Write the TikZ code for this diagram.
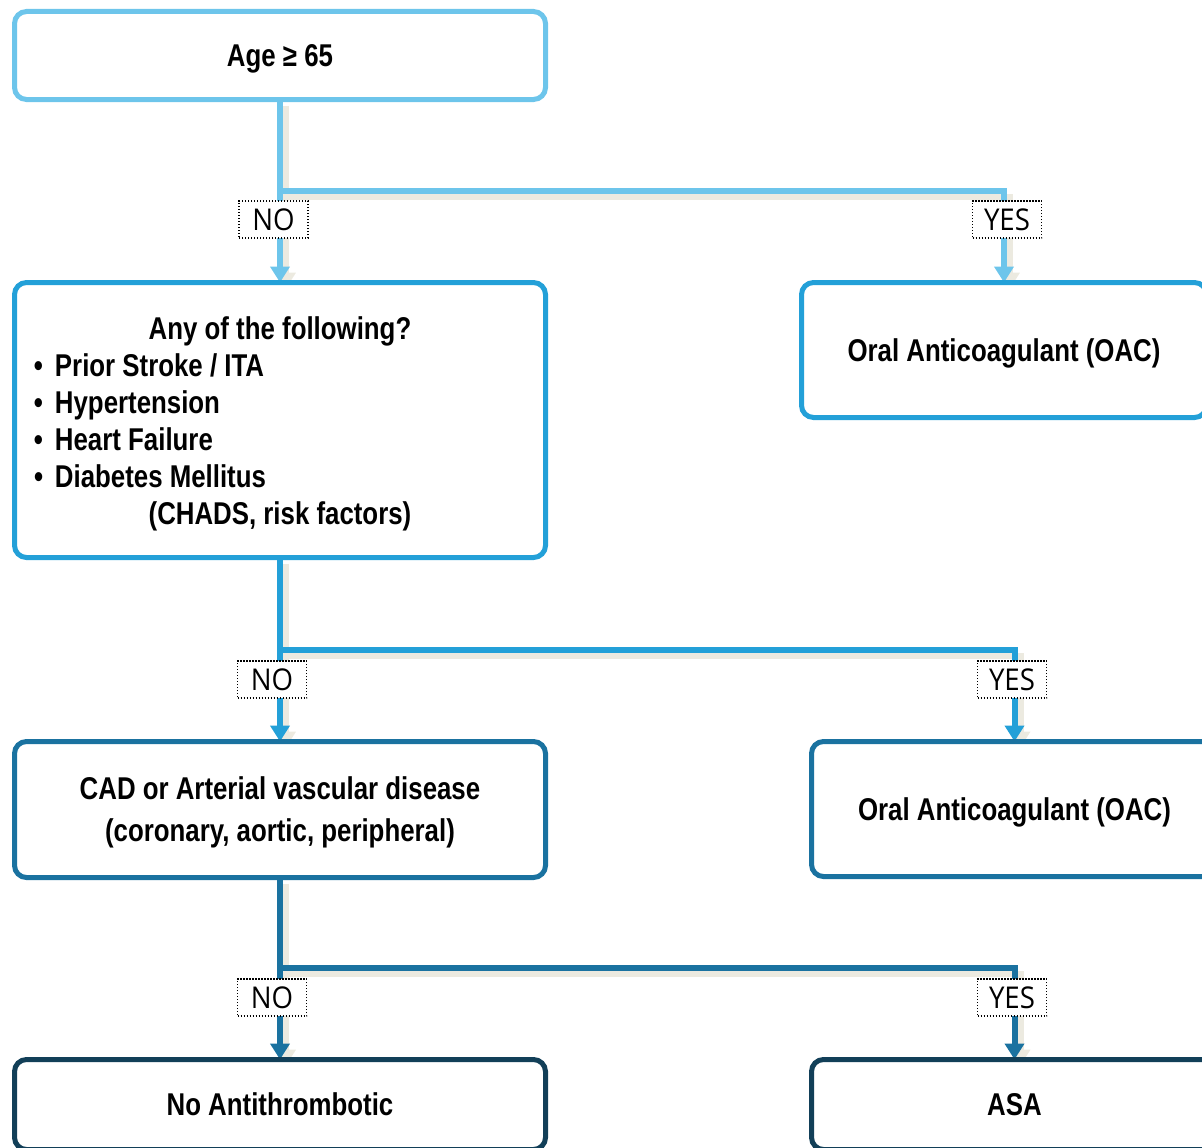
\documentclass[tikz,border=0pt]{standalone}
\usepackage{fontspec}
\newfontfamily\nar{Liberation Sans}[FakeStretch=0.82]
\newfontfamily\lab{Open Sans}[FakeStretch=0.92]
\usetikzlibrary{arrows.meta}
\definecolor{cA}{HTML}{6DC5EB}
\definecolor{cB}{HTML}{23A0D8}
\definecolor{cC}{HTML}{1A72A0}
\definecolor{cD}{HTML}{123F58}
\definecolor{shadowc}{HTML}{ECEAE0}
\pgfdeclarelayer{bg}
\pgfdeclarelayer{shad}
\pgfsetlayers{shad,bg,main}
\begin{document}
\begin{tikzpicture}[x=1pt,y=-1pt,
  box/.style={draw, fill=white, rounded corners=12pt, line width=5pt, inner sep=0pt, outer sep=0pt,
    font=\nar\bfseries\fontsize{31.5}{37}\selectfont, align=center},
  tdz/.style={text depth=0pt},
  conn/.style={line width=6pt},
  arr/.style={-{Triangle[width=19pt,length=16pt]}},
  lbl/.style={draw=black, fill=white, line width=1.4pt, dash pattern=on 1.4pt off 1.6pt,
    minimum width=69pt, minimum height=37pt, inner sep=0pt, font=\lab\fontsize{30}{30}\selectfont}]
\clip (0,0) rectangle (1202,1148);

\node[box, tdz, draw=cA, minimum width=531pt, minimum height=88pt] (b1) at (280,55.5) {Age ≥ 65};
\node[box, draw=cB, minimum width=531pt, minimum height=275pt] (b2) at (280,420) {\parbox{492pt}{%
  \vspace*{8pt}%
  \centering Any of the following?\par
  \raggedright
  \makebox[21pt][l]{\textbullet}Prior Stroke / ITA\par
  \makebox[21pt][l]{\textbullet}Hypertension\par
  \makebox[21pt][l]{\textbullet}Heart Failure\par
  \makebox[21pt][l]{\textbullet}Diabetes Mellitus\par
  \centering (CHADS, risk factors)\par}};
\node[box, tdz, draw=cB, minimum width=405pt, minimum height=135pt] (b3) at (1004,350) {Oral Anticoagulant (OAC)};
\node[box, tdz, draw=cC, minimum width=531pt, minimum height=136pt] (b4) at (280,809.5) {CAD or Arterial vascular disease\\[5pt](coronary, aortic, peripheral)};
\node[box, tdz, draw=cC, minimum width=406pt, minimum height=135pt] (b5) at (1014.5,809) {Oral Anticoagulant (OAC)};
\node[box, draw=cD, minimum width=531pt, minimum height=90pt] (b6) at (280,1104.5) {No Antithrombotic};
\node[box, draw=cD, minimum width=406pt, minimum height=90pt] (b7) at (1014.5,1104.5) {ASA};

\coordinate (j1) at (280,191);
\coordinate (j2) at (280,650);
\coordinate (j3) at (280,968);

\begin{pgfonlayer}{shad}
\begin{scope}[transform canvas={shift={(6pt,-6pt)}}, draw=shadowc, color=shadowc]
  \draw[conn, arr] (b1.south) -- (j1) -| (b3.north);
  \draw[conn, arr] (j1) -- (b2.north);
  \draw[conn, arr] (b2.south) -- (j2) -| (b5.north);
  \draw[conn, arr] (j2) -- (b4.north);
  \draw[conn, arr] (b4.south) -- (j3) -| (b7.north);
  \draw[conn, arr] (j3) -- (b6.north);
\end{scope}
\end{pgfonlayer}

\begin{pgfonlayer}{bg}
  \draw[conn, arr, cA] (b1.south) -- (j1) -| (b3.north);
  \draw[conn, arr, cA] (j1) -- (b2.north);
  \draw[conn, arr, cB] (b2.south) -- (j2) -| (b5.north);
  \draw[conn, arr, cB] (j2) -- (b4.north);
  \draw[conn, arr, cC] (b4.south) -- (j3) -| (b7.north);
  \draw[conn, arr, cC] (j3) -- (b6.north);
\end{pgfonlayer}

\node[lbl] (n1) at (273.5,219.5) {NO};
\node[lbl] (y1) at (1007,219.5) {YES};
\node[lbl] (n2) at (272,679.5) {NO};
\node[lbl] (y2) at (1012,679.5) {YES};
\node[lbl] (n3) at (272,997.5) {NO};
\node[lbl] (y3) at (1012,997.5) {YES};
\end{tikzpicture}
\end{document}
